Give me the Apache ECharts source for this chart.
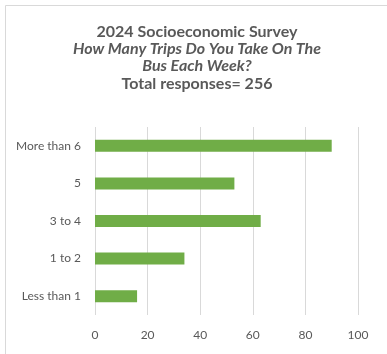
<!DOCTYPE html>
<html>
<head>
<meta charset="utf-8">
<script src="https://cdn.jsdelivr.net/npm/echarts@6/dist/echarts.min.js"></script>
<style>
  html, body { margin: 0; padding: 0; background: #fff; }
  #chart { width: 387px; height: 354px; }
</style>
</head>
<body>
<div id="chart"></div>
<script>
// Weekly bus trips, survey answers (bottom to top on the axis)
const categories = ['Less than 1', '1 to 2', '3 to 4', '5', 'More than 6'];
const responses = [16, 34, 63, 53, 90];
const xTicks = { min: 0, max: 100, interval: 20 };

const titleLines = [
  '{b|2024 Socioeconomic Survey}',
  '{i|How Many Trips Do You Take On The}',
  '{i|Bus Each Week?}',
  '{b|Total responses= 256}'
];

const fontFamily = 'Lato, "Open Sans", sans-serif';
const textColor = '#595959';

const chart = echarts.init(document.getElementById('chart'), null, { renderer: 'canvas' });
chart.setOption({
  animation: false,
  backgroundColor: '#fff',
  graphic: [{
    type: 'rect',
    shape: { x: 5.5, y: 5.5, width: 420, height: 420 },
    style: { fill: 'none', stroke: '#d9d9d9', lineWidth: 1 },
    silent: true
  }],
  title: {
    text: titleLines.join('\n'),
    left: 197,
    top: 23,
    padding: 0,
    textAlign: 'center',
    textStyle: {
      rich: {
        b: { fontFamily, fontSize: 16, fontWeight: 'bold', color: textColor, lineHeight: 17.3, align: 'center' },
        i: { fontFamily, fontSize: 16, fontWeight: 'bold', fontStyle: 'italic', color: textColor, lineHeight: 17.3, align: 'center' }
      }
    }
  },
  grid: { left: 95, right: 29, top: 127, bottom: 39, containLabel: false },
  xAxis: {
    type: 'value',
    min: xTicks.min,
    max: xTicks.max,
    interval: xTicks.interval,
    axisLine: { show: false },
    axisTick: { show: false },
    axisLabel: { color: textColor, fontFamily, fontSize: 12, margin: 14 },
    splitLine: { show: true, lineStyle: { color: '#d9d9d9', width: 1 } }
  },
  yAxis: {
    type: 'category',
    data: categories,
    axisLine: { show: false },
    axisTick: { show: false },
    axisLabel: { color: textColor, fontFamily, fontSize: 12, margin: 14 }
  },
  series: [{
    type: 'bar',
    data: responses,
    barWidth: 12,
    itemStyle: { color: '#70ad47' }
  }]
});
</script>
</body>
</html>
